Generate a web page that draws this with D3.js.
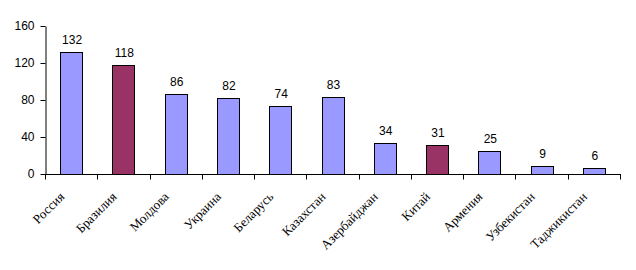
<!DOCTYPE html>
<html><head><meta charset="utf-8">
<script src="https://cdn.jsdelivr.net/npm/d3@7"></script>
<style>body{margin:0;background:#fff}</style>
</head><body><svg id="c" width="636" height="270"></svg>
<script>
const categories = ["Россия","Бразилия","Молдова","Украина","Беларусь","Казахстан","Азербайджан","Китай","Армения","Узбекистан","Таджикистан"];
const values = [132,118,86,82,74,83,34,31,25,9,6];
const highlighted = ["Бразилия","Китай"];
const yTicks = [0,40,80,120,160];

(function(){
const svg = d3.select("#c");
const mLeft = 45, mRight = 620, mTop = 26, mBottom = 174;
const x = d3.scaleBand().domain(categories).range([mLeft, mRight]).paddingInner(0.58).paddingOuter(0.29);
const y = d3.scaleLinear().domain([0,160]).range([mBottom, mTop]);
const numFont = "'Liberation Sans', Arial, sans-serif";
const lblFont = "'Liberation Serif', 'Times New Roman', serif";

// bars
svg.selectAll("rect.bar").data(categories).enter().append("rect")
  .attr("x", d => Math.round(x(d)) + 0.5)
  .attr("y", (d,i) => Math.round(y(values[i])) + 0.5)
  .attr("width", Math.round(x.bandwidth()))
  .attr("height", (d,i) => Math.round(mBottom - y(values[i])))
  .attr("fill", d => highlighted.includes(d) ? "#993366" : "#9999FF")
  .attr("stroke", "#000").attr("stroke-width", 1);

// y axis
const ya = svg.append("g").attr("transform", `translate(${mLeft + 0.5},0)`)
  .call(d3.axisLeft(y).tickValues(yTicks).tickSize(5).tickSizeOuter(0).tickPadding(6));
ya.attr("font-family", null);
ya.select(".domain").attr("stroke", "#000");
ya.selectAll("line").attr("stroke", "#000");
ya.selectAll("text").style("font-family", numFont).style("font-size", "12px").attr("fill", "#000");

// x axis with ticks at category boundaries
const xa = svg.append("g").attr("transform", `translate(0,${mBottom + 0.5})`);
xa.append("line").attr("x1", mLeft).attr("x2", mRight + 1).attr("stroke", "#000");
const bounds = d3.range(categories.length + 1).map(i => mLeft + i * (mRight - mLeft) / categories.length);
xa.selectAll("line.tk").data(bounds).enter().append("line")
  .attr("x1", d => Math.round(d) + 0.5).attr("x2", d => Math.round(d) + 0.5)
  .attr("y1", 0).attr("y2", 5).attr("stroke", "#000");
xa.selectAll("text.lbl").data(categories).enter().append("text")
  .attr("transform", d => `translate(${x(d) + x.bandwidth()/2 - 6},${23}) rotate(-45)`)
  .attr("text-anchor", "end").style("font-family", lblFont).style("font-size", "13px").attr("fill", "#000")
  .text(d => d);

// value labels
svg.selectAll("text.val").data(categories).enter().append("text")
  .attr("x", d => x(d) + x.bandwidth()/2 + 1)
  .attr("y", (d,i) => y(values[i]) - 8)
  .attr("text-anchor", "middle").style("font-family", numFont).style("font-size", "12px").attr("fill", "#000")
  .text((d,i) => values[i]);
})();
</script></body></html>
